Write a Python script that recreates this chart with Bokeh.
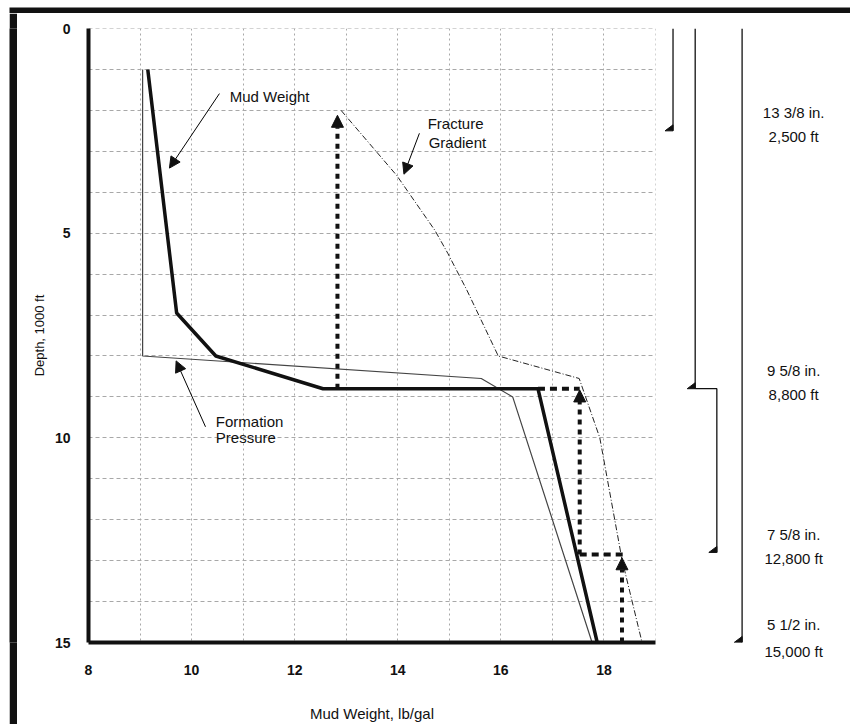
from bokeh.plotting import figure
from bokeh.layouts import column, row
from bokeh.models import Range1d, FixedTicker, Arrow, NormalHead, Label, Spacer
from bokeh.core.properties import value
from bokeh.embed import file_html
from bokeh.resources import INLINE

FONT = "Liberation Sans"

# ---------------- data (mud weight lb/gal, depth 1000 ft) ----------------
x_ticks = [8, 10, 12, 14, 16, 18]
x_tick_labels = ["8", "10", "12", "14", "16", "18"]
x_minor = [9, 11, 13, 15, 17, 19]
y_ticks = [0, 5, 10, 15]
y_tick_labels = ["0", "5", "10", "15"]
y_minor = [1, 2, 3, 4, 6, 7, 8, 9, 11, 12, 13, 14]

formation_mw = [9.05, 9.05, 15.62, 16.23, 17.77]
formation_depth = [1.0, 8.0, 8.55, 9.0, 15.0]

mud_mw = [9.15, 9.71, 10.47, 12.55, 16.72, 17.87]
mud_depth = [1.0, 6.95, 8.0, 8.8, 8.8, 15.0]

fracture_mw = [12.9, 13.98, 14.72, 14.97, 15.34, 15.95, 17.52, 17.92, 18.35, 18.74]
fracture_depth = [2.0, 3.59, 4.93, 5.49, 6.39, 8.0, 8.55, 10.0, 12.97, 15.0]

# design arrows (vertical dotted, pointing up) and horizontal dashed steps
kick_x = [12.83, 17.53, 18.35]
kick_from = [8.8, 12.85, 15.0]
kick_to = [2.12, 8.83, 12.93]
step_x0 = [16.72, 17.53]
step_x1 = [17.53, 18.38]
step_depth = [8.8, 12.85]

# casing program
casing_x = [19.34, 19.77, 20.19, 20.68]
casing_top = [0.0, 0.0, 8.8, 0.0]
casing_shoe = [2.5, 8.8, 12.8, 15.0]
casing_size = ["13 3/8 in.", "9 5/8 in.", "7 5/8 in.", "5 1/2 in."]
casing_depth_label = ["2,500 ft", "8,800 ft", "12,800 ft", "15,000 ft"]

# ---------------- geometry ----------------
TOTAL_W = 850
ROW_H = 711
MAIN_W = 640
BL, BT = 71, 15
FW, FH = 567, 615
BB = ROW_H - BT - FH
PX_X = FW / 11.0          # px per lb/gal
PX_Y = FH / 15.0          # px per 1000 ft
SIDE_W = TOTAL_W - 17 - MAIN_W
INK = "#111111"


def strip(w, h, ml, mt, color, fill_all=False):
    f = figure(width=w, height=h, x_axis_type=None, y_axis_type=None,
               x_range=Range1d(0, 1), y_range=Range1d(0, 1),
               output_backend="svg", toolbar_location=None,
               min_border_left=ml, min_border_right=0, min_border_top=mt, min_border_bottom=0)
    f.background_fill_color = color
    f.border_fill_color = color if fill_all else "white"
    f.outline_line_color = None
    return f


# ---------------- main chart ----------------
p_main = figure(width=MAIN_W, height=ROW_H, x_range=Range1d(8, 19.0005), y_range=Range1d(15, -0.0005),
                output_backend="svg", toolbar_location=None,
                min_border_left=BL, min_border_right=MAIN_W - BL - FW,
                min_border_top=BT, min_border_bottom=BB)
p_main.outline_line_color = None
p_main.background_fill_color = "white"
p_main.border_fill_color = "white"

p_main.xaxis.ticker = FixedTicker(ticks=x_ticks, minor_ticks=x_minor)
p_main.yaxis.ticker = FixedTicker(ticks=y_ticks, minor_ticks=y_minor)
p_main.xaxis.major_label_overrides = dict(zip(x_ticks, x_tick_labels))
p_main.yaxis.major_label_overrides = dict(zip(y_ticks, y_tick_labels))
for ax in (p_main.xaxis, p_main.yaxis):
    ax.axis_line_width = 4
    ax.axis_line_color = INK
    ax.major_tick_line_color = None
    ax.minor_tick_line_color = None
    ax.major_label_text_font = FONT
    ax.major_label_text_font_style = "bold"
    ax.major_label_text_font_size = "14px"
    ax.major_label_text_color = INK
    ax.axis_label_text_font = FONT
    ax.axis_label_text_font_style = "normal"
    ax.axis_label_text_color = INK
p_main.xaxis.major_label_standoff = 16
p_main.yaxis.major_label_standoff = 12
p_main.yaxis.axis_label = "Depth, 1000 ft"
p_main.yaxis.axis_label_text_font_size = "13px"
p_main.yaxis.axis_label_standoff = 5
p_main.xaxis.axis_label = "Mud Weight, lb/gal"
p_main.xaxis.axis_label_text_font_size = "15px"
p_main.xaxis.axis_label_standoff = 27

p_main.xgrid.grid_line_color = "#a8a8a8"
p_main.xgrid.grid_line_dash = "2 3"
p_main.xgrid.minor_grid_line_color = "#a8a8a8"
p_main.xgrid.minor_grid_line_dash = "2 3"
p_main.ygrid.grid_line_color = "#a8a8a8"
p_main.ygrid.grid_line_dash = "4 3"
p_main.ygrid.minor_grid_line_color = "#a8a8a8"
p_main.ygrid.minor_grid_line_dash = "4 3"

# curves
p_main.line(fracture_mw, fracture_depth, line_color="#222222", line_width=1, line_dash="6 2 1 2")
p_main.line(formation_mw, formation_depth, line_color="#444444", line_width=1.2)
p_main.line(mud_mw, mud_depth, line_color=INK, line_width=3.5)

# design arrows
for x, y0, y1 in zip(kick_x, kick_from, kick_to):
    p_main.add_layout(Arrow(x_start=x, y_start=y0, x_end=x, y_end=y1, line_width=4,
                            line_dash="5 5", line_color=INK,
                            end=NormalHead(size=12, fill_color=INK, line_color=INK, line_width=1)))
for x0, x1, d in zip(step_x0, step_x1, step_depth):
    p_main.add_layout(Arrow(x_start=x0, y_start=d, x_end=x1, y_end=d, line_width=4,
                            line_dash="7 5", line_color=INK, end=None))


def label(x, y, t):
    p_main.add_layout(Label(x=x, y=y, text=t, text_font=FONT, text_font_size="15px",
                            text_align="left", text_baseline="middle", text_color=INK))


def head():
    return NormalHead(size=11, fill_color=INK, line_color=INK, line_width=1)


label(10.74, 1.66, "Mud Weight")
p_main.add_layout(Arrow(x_start=10.54, y_start=1.59, x_end=9.57, y_end=3.41, line_width=1, end=head()))
label(10.47, 9.61, "Formation")
label(10.47, 10.0, "Pressure")
p_main.add_layout(Arrow(x_start=10.27, y_start=9.73, x_end=9.70, y_end=8.12, line_width=1, end=head()))
label(14.58, 2.32, "Fracture")
label(14.60, 2.78, "Gradient")
p_main.add_layout(Arrow(x_start=14.42, y_start=2.56, x_end=14.12, y_end=3.56, line_width=1, end=head()))

# ---------------- casing program panel (same depth scale as main chart) ----------------
side_x0 = 19 + (MAIN_W - BL - FW) / PX_X
p_side = figure(width=SIDE_W, height=ROW_H,
                x_range=Range1d(side_x0, side_x0 + SIDE_W / PX_X),
                y_range=Range1d(15, 0),
                y_axis_type=None,
                output_backend="svg", toolbar_location=None,
                min_border_left=0, min_border_right=0, min_border_top=BT, min_border_bottom=BB)
p_side.outline_line_color = None
p_side.background_fill_color = "white"
p_side.border_fill_color = "white"
p_side.grid.visible = False

xs, ys = [], []
for i, (x, top, shoe) in enumerate(zip(casing_x, casing_top, casing_shoe)):
    if top > 0:
        xs.append([casing_x[i - 1], x, x])
        ys.append([top, top, shoe])
    else:
        xs.append([x, x])
        ys.append([top, shoe])
p_side.multi_line(xs, ys, line_color=INK, line_width=1.3)

bw, bh = 8 / PX_X, 6 / PX_Y
p_side.patches([[x - bw, x, x] for x in casing_x],
               [[s, s, s - bh] for s in casing_shoe],
               fill_color=INK, line_color=INK)

text_x = 21.68
size_y = [s - 18 / PX_Y for s in casing_shoe]
depth_y = [s + 6 / PX_Y for s in casing_shoe]
inside = [i for i, y in enumerate(depth_y) if y < 15]
outside = [i for i, y in enumerate(depth_y) if y >= 15]
p_side.text([text_x] * len(casing_shoe), size_y, casing_size,
            text_font=value(FONT), text_font_size="15px", text_align="center",
            text_baseline="middle", text_color=INK)
p_side.text([text_x] * len(inside), [depth_y[i] for i in inside], [casing_depth_label[i] for i in inside],
            text_font=value(FONT), text_font_size="15px", text_align="center",
            text_baseline="middle", text_color=INK)
# the label that sits just below the 15,000 ft line is carried by this panel's x axis
p_side.xaxis.ticker = FixedTicker(ticks=[text_x] if outside else [], minor_ticks=[])
p_side.xaxis.major_label_overrides = {text_x: casing_depth_label[i] for i in outside}
p_side.xaxis.axis_line_color = None
p_side.xaxis.major_tick_line_color = None
p_side.xaxis.minor_tick_line_color = None
p_side.xaxis.major_label_standoff = -6
p_side.xaxis.major_label_text_font = FONT
p_side.xaxis.major_label_text_font_style = "normal"
p_side.xaxis.major_label_text_font_size = "15px"
p_side.xaxis.major_label_text_color = INK

# ---------------- page frame ----------------
top_bar = strip(TOTAL_W, 13, 9, 7, INK)
left_bar = strip(8, ROW_H, 0, 0, INK, fill_all=True)
bottom_bar = strip(TOTAL_W, 2, 9, 0, "#333333")

p = column(top_bar, row(Spacer(width=9, height=ROW_H), left_bar, p_main, p_side), bottom_bar)

open("out.html", "w").write(file_html(p, INLINE))
